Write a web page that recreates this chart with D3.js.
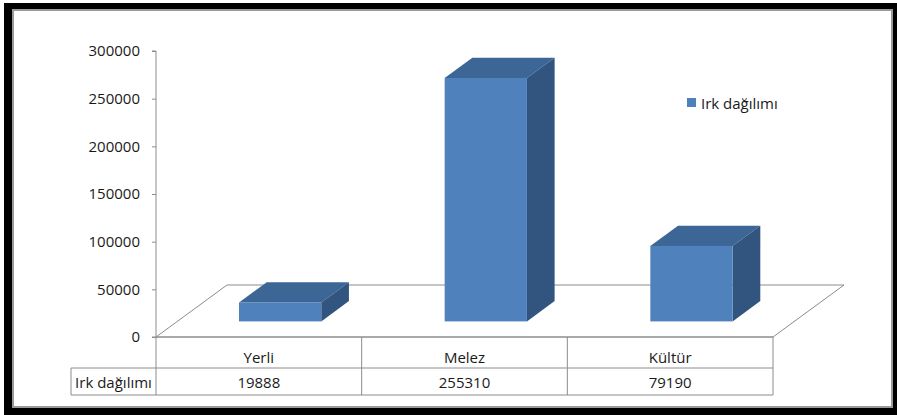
<!DOCTYPE html>
<html>
<head>
<meta charset="utf-8">
<script src="https://cdn.jsdelivr.net/npm/d3@7"></script>
<style>
  html, body { margin: 0; padding: 0; background: #fff; }
  svg { display: block; }
  text { font-family: "Open Sans", sans-serif; fill: #1a1a1a; }
</style>
</head>
<body>
<script>
// Breed distribution of livestock
const categories = ["Yerli", "Melez", "Kültür"];
const seriesName = "Irk dağılımı";
const values = [19888, 255310, 79190];
const tickValues = [0, 50000, 100000, 150000, 200000, 250000, 300000];

const W = 897, H = 415;
const svg = d3.select("body").append("svg").attr("width", W).attr("height", H);

// Frame: black outer band, thin grey rule, white chart area
svg.append("rect").attr("x", 4).attr("y", 3).attr("width", W - 4).attr("height", H - 3).attr("fill", "#000");
svg.append("rect").attr("x", 12).attr("y", 9).attr("width", 881).attr("height", 399).attr("fill", "#9a9a9a");
svg.append("rect").attr("x", 14).attr("y", 11).attr("width", 877).attr("height", 395).attr("fill", "#fff");

// Plot geometry
const x0 = 156, x1 = 773;          // front edge of the floor
const depth = { dx: 71, dy: -52 };  // floor depth offset (oblique projection)

const y = d3.scaleLinear().domain([0, 300000]).range([337, 51]);
const x = d3.scaleBand().domain(categories).range([x0, x1]).paddingInner(0).paddingOuter(0);

const grey = "#8c8c8c";

// Floor
const fy = y(0);
svg.append("polygon")
  .attr("points", [
    [x0, fy], [x0 + depth.dx, fy + depth.dy],
    [x1 + depth.dx, fy + depth.dy], [x1, fy]
  ].map(p => p.join(",")).join(" "))
  .attr("fill", "none").attr("stroke", grey).attr("stroke-width", 1);

// Bars as boxes placed in the middle of the floor depth
const dFront = 0.3, dBack = 0.69;
const barFrac = 0.4;
const colFront = "#4f81bd", colTop = "#3c6696", colSide = "#32557f";

const bars = svg.append("g");
categories.forEach((c, i) => {
  const v = values[i];
  const h = y(0) - y(v);
  const ox = depth.dx * dFront, oy = depth.dy * dFront;
  const bx = depth.dx * (dBack - dFront), by = depth.dy * (dBack - dFront);
  const left = x(c) + x.bandwidth() * (1 - barFrac) / 2 + ox;
  const right = left + x.bandwidth() * barFrac;
  const bottom = y(0) + oy;
  const top = bottom - h;
  const pts = a => a.map(p => p.join(",")).join(" ");
  // top face
  bars.append("polygon")
    .attr("points", pts([[left, top], [left + bx, top + by], [right + bx, top + by], [right, top]]))
    .attr("fill", colTop);
  // side face
  bars.append("polygon")
    .attr("points", pts([[right, top], [right + bx, top + by], [right + bx, bottom + by], [right, bottom]]))
    .attr("fill", colSide);
  // front face
  bars.append("rect")
    .attr("x", left).attr("y", top)
    .attr("width", right - left).attr("height", h)
    .attr("fill", colFront);
});

// Value axis
const axis = d3.axisLeft(y).tickValues(tickValues).tickSize(4).tickPadding(12).tickFormat(d3.format("d"));
const ag = svg.append("g").attr("transform", `translate(${x0},0)`).call(axis);
ag.select(".domain").attr("stroke", grey).attr("d", `M-4,${y(300000)}H0V${y(0)}H-4`);
ag.selectAll(".tick line").attr("stroke", grey);
ag.selectAll(".tick text").style("font-family", "'Open Sans', sans-serif").style("font-size", "15px").attr("fill", "#1a1a1a");

// Data table under the floor
const r0 = y(0), r1 = 368, r2 = 395;
const hdrX = 71;
const tg = svg.append("g").attr("stroke", grey).attr("stroke-width", 1).attr("fill", "none");
tg.append("line").attr("x1", x0).attr("x2", x1).attr("y1", r0).attr("y2", r0);
tg.append("line").attr("x1", hdrX).attr("x2", x1).attr("y1", r1).attr("y2", r1);
tg.append("line").attr("x1", hdrX).attr("x2", x1).attr("y1", r2).attr("y2", r2);
tg.append("line").attr("x1", hdrX).attr("x2", hdrX).attr("y1", r1).attr("y2", r2);
[x0].concat(categories.map(c => x(c) + x.bandwidth())).forEach(xx => {
  tg.append("line").attr("x1", xx).attr("x2", xx).attr("y1", r0).attr("y2", r2);
});

const tt = svg.append("g").style("font-size", "15px");
categories.forEach((c, i) => {
  tt.append("text").attr("x", x(c) + x.bandwidth() / 2).attr("y", 357)
    .attr("text-anchor", "middle").attr("dominant-baseline", "central").text(c);
  tt.append("text").attr("x", x(c) + x.bandwidth() / 2).attr("y", (r1 + r2) / 2)
    .attr("text-anchor", "middle").attr("dominant-baseline", "central").text(String(values[i]));
});
tt.append("text").attr("x", (hdrX + x0) / 2).attr("y", (r1 + r2) / 2)
  .attr("text-anchor", "middle").attr("dominant-baseline", "central").text(seriesName);

// Legend
const lg = svg.append("g").attr("transform", "translate(687,98)");
lg.append("rect").attr("width", 9).attr("height", 9).attr("fill", colFront);
lg.append("text").attr("x", 14).attr("y", 4.5).attr("dominant-baseline", "central")
  .style("font-size", "15px").text(seriesName);
</script>
</body>
</html>
